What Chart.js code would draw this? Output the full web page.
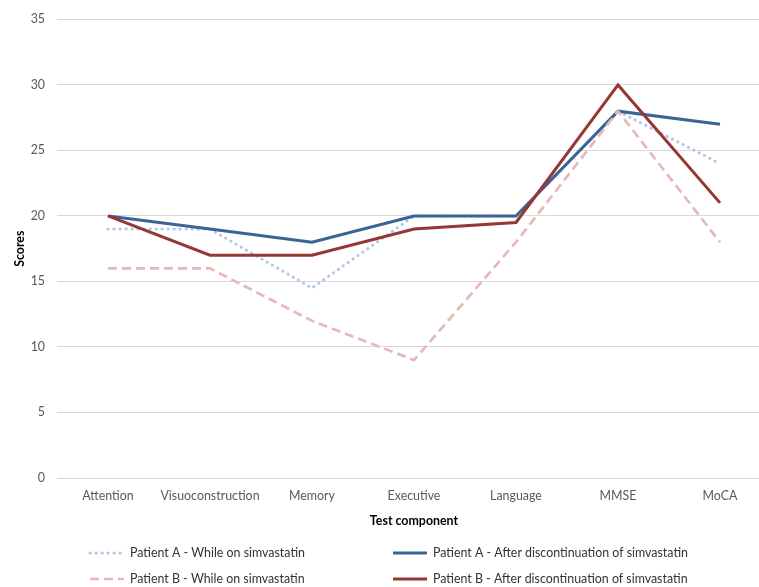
<!DOCTYPE html>
<html>
<head>
<meta charset="utf-8">
<script src="https://cdn.jsdelivr.net/npm/chart.js@4/dist/chart.umd.min.js"></script>
<style>
  html, body { margin: 0; padding: 0; background: #fff; overflow: hidden; }
  #wrap { width: 771px; height: 587px; }
</style>
</head>
<body>
<div id="wrap"><canvas id="c" width="771" height="587"></canvas></div>
<script>
// Cognitive test components
const categories = ['Attention', 'Visuoconstruction', 'Memory', 'Executive', 'Language', 'MMSE', 'MoCA'];

// Scores per test component
const patientAWhile = [19, 19, 14.5, 20, 20, 28, 24];
const patientAAfter = [20, 19, 18, 20, 20, 28, 27];
const patientBWhile = [16, 16, 12, 9, 18, 28, 18];
const patientBAfter = [20, 17, 17, 19, 19.5, 30, 21];

const seriesNames = [
  'Patient A - While on simvastatin',
  'Patient A - After discontinuation of simvastatin',
  'Patient B - While on simvastatin',
  'Patient B - After discontinuation of simvastatin'
];

const yTicks = [0, 5, 10, 15, 20, 25, 30, 35];

const FONT = 'Lato, "Open Sans", sans-serif';
const TEXT = '#595959';

// Two-column legend under the axis title
const gridLegend = {
  id: 'gridLegend',
  afterDraw(chart) {
    const ctx = chart.ctx;
    const cols = [90, 393];
    const rows = [553, 579];
    ctx.save();
    ctx.font = '12.4px ' + FONT;
    ctx.textBaseline = 'middle';
    ctx.textAlign = 'left';
    chart.data.datasets.forEach((ds, i) => {
      const x = cols[i % 2];
      const y = rows[Math.floor(i / 2)];
      ctx.beginPath();
      ctx.strokeStyle = ds.borderColor;
      ctx.lineWidth = ds.borderWidth;
      ctx.lineCap = ds.borderCapStyle || 'butt';
      ctx.setLineDash(ds.borderDash || []);
      ctx.moveTo(x, y);
      ctx.lineTo(x + 34, y);
      ctx.stroke();
      ctx.setLineDash([]);
      ctx.fillStyle = '#333333';
      ctx.fillText(ds.label, x + 40, y);
    });
    ctx.restore();
  }
};

new Chart(document.getElementById('c'), {
  type: 'line',
  data: {
    labels: categories,
    datasets: [
      {
        label: seriesNames[0], data: patientAWhile,
        borderColor: '#B3C8E2', borderWidth: 3,
        borderDash: [0.3, 5.7], borderCapStyle: 'round', order: 3
      },
      {
        label: seriesNames[1], data: patientAAfter,
        borderColor: '#3A6496', borderWidth: 3, order: 2
      },
      {
        label: seriesNames[2], data: patientBWhile,
        borderColor: '#E6B9B8', borderWidth: 2.7,
        borderDash: [9, 5], order: 1
      },
      {
        label: seriesNames[3], data: patientBAfter,
        borderColor: '#953735', borderWidth: 3, order: 0
      }
    ]
  },
  options: {
    responsive: false,
    animation: false,
    layout: { padding: { top: 17, left: 0, right: 0, bottom: 0 } },
    elements: {
      line: { tension: 0, fill: false, borderJoinStyle: 'miter' },
      point: { radius: 0, hoverRadius: 0 }
    },
    plugins: {
      legend: { display: false },
      tooltip: { enabled: false }
    },
    scales: {
      x: {
        type: 'category',
        offset: true,
        grid: { display: false, drawTicks: false },
        border: { display: true, color: '#D9D9D9', width: 1 },
        ticks: { color: TEXT, font: { family: FONT, size: 12.4 }, padding: 11, maxRotation: 0, autoSkip: false },
        title: {
          display: true, text: 'Test component', color: '#000',
          font: { family: FONT, size: 12.4, weight: 'bold' },
          padding: { top: 4, bottom: 58.6 }
        },
        afterFit(scale) { scale.height = 109; }
      },
      y: {
        min: 0, max: 35,
        afterBuildTicks(scale) { scale.ticks = yTicks.map(v => ({ value: v })); },
        grid: { color: '#D9D9D9', lineWidth: 1, drawTicks: false },
        border: { display: false },
        ticks: { color: TEXT, font: { family: FONT, size: 12.4 }, padding: 12 },
        title: {
          display: true, text: 'Scores', color: '#000',
          font: { family: FONT, size: 12.4, weight: 'bold' },
          padding: { top: 13, bottom: 0 }
        },
        afterFit(scale) { scale.width = 57; }
      }
    }
  },
  plugins: [gridLegend]
});
</script>
</body>
</html>
